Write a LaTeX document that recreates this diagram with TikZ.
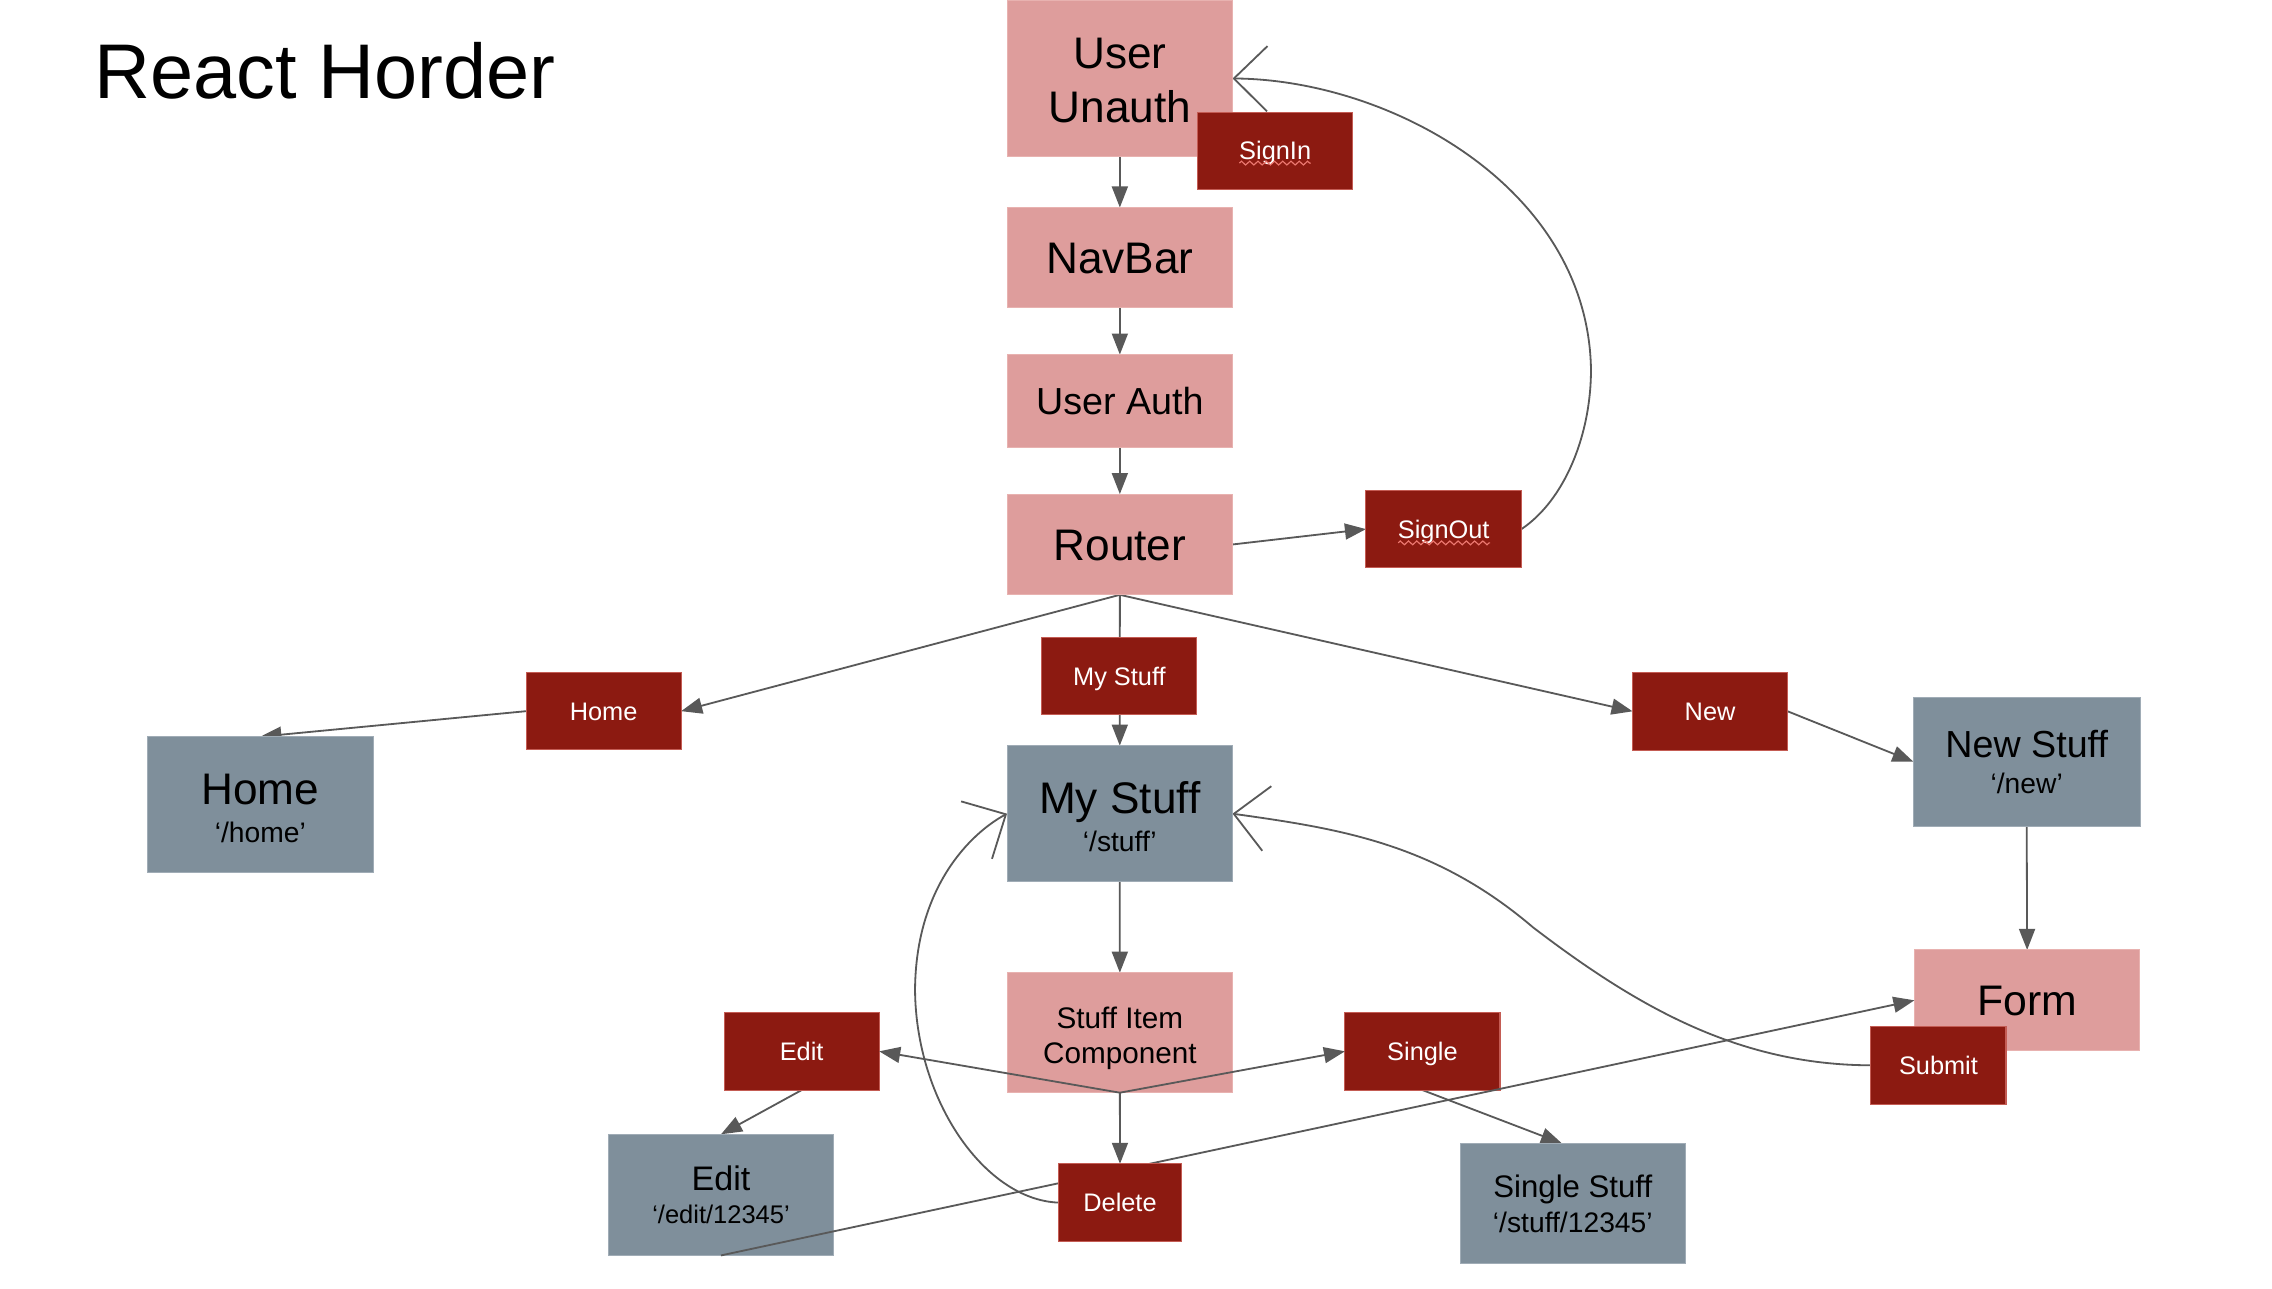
\documentclass[tikz,border=0pt]{standalone}
\usepackage{fontspec}
\setmainfont{Liberation Sans}
\usetikzlibrary{arrows.meta,calc,decorations.pathmorphing}
\definecolor{pinkF}{RGB}{222,157,156}
\definecolor{pinkB}{RGB}{232,178,176}
\definecolor{grayF}{RGB}{127,143,155}
\definecolor{grayB}{RGB}{160,172,182}
\definecolor{redF}{RGB}{140,26,17}
\definecolor{redB}{RGB}{196,92,84}
\definecolor{lineC}{RGB}{89,89,89}
\definecolor{squigC}{RGB}{236,120,112}
\newcommand\fs[2]{\fontsize{#1}{#2}\selectfont}
\pgfdeclarelayer{bg}
\pgfsetlayers{bg,main}
\begin{document}
\begin{tikzpicture}[x=1pt,y=-1pt,
  box/.style={inner sep=0pt,outer sep=0pt,line width=0.7pt,align=center,minimum width=155.6pt},
  pinkbox/.style={box,fill=pinkF,draw=pinkB},
  graybox/.style={box,fill=grayF,draw=grayB},
  redlab/.style={box,fill=redF,draw=redB,text=white,minimum width=107pt,minimum height=53.5pt,
    font=\fs{17.5}{21},text height=12.5pt,text depth=0pt},
  big/.style={font=\fs{30.5}{37},text height=21.8pt,text depth=0pt},
  conn/.style={draw=lineC,line width=1.25pt},
  arr/.style={conn,-{Triangle[length=14.5pt,width=11pt]}},
  openarr/.style={conn,-{Straight Barb[length=23pt,width=45pt]}},
  squig/.style={draw=squigC,line width=0.8pt,decorate,
    decoration={zigzag,segment length=5.7pt,amplitude=1.3pt}}
]
\useasboundingbox (0,0) rectangle (1568,889);
\begin{pgfonlayer}{bg}
\fill[white] (0,0) rectangle (1568,889);
\end{pgfonlayer}

% title
\node[anchor=base west,font=\fs{53.5}{60},inner sep=0pt] (title) at (65.2,67.9) {React Horder};

% top column
\node[pinkbox,minimum height=107.3pt,font=\fs{30.5}{37.7}] (uu) at (772.85,54.15) {\rule{0pt}{23.6pt}User\\Unauth};
\node[redlab] (signin) at (880.05,104.05) {SignIn};
\node[pinkbox,big,minimum height=69pt] (navbar) at (772.85,177.7) {NavBar};
\node[pinkbox,minimum height=64.4pt,font=\fs{26}{30},text height=18.6pt,text depth=0pt] (userauth) at (772.85,276.9) {User Auth};
\node[pinkbox,big,minimum height=69.5pt] (router) at (772.85,375.75) {Router};
\node[redlab,minimum width=107.3pt] (signout) at (996.35,365.15) {SignOut};

% route labels
\node[redlab] (homelab) at (416.6,490.8) {Home};
\node[redlab] (mystufflab) at (772.55,466.6) {My Stuff};
\node[redlab] (newlab) at (1180.2,490.9) {New};

% pages
\node[graybox,minimum height=93.9pt,font=\fs{30.5}{26.4}] (homebox) at (179.7,555.35) {\rule{0pt}{26pt}Home\\{\fs{19.5}{26.4}‘/home’}};
\node[graybox,minimum height=93.9pt,font=\fs{30.5}{26.4}] (mystuffbox) at (772.8,561.55) {\rule{0pt}{26.2pt}My Stuff\\{\fs{19.5}{26.4}‘/stuff’}};
\node[graybox,minimum height=88.8pt,minimum width=156.4pt,font=\fs{26}{24.8}] (newstuff) at (1398.7,525.7) {New Stuff\\{\fs{19.5}{24.8}‘/new’}};
\node[pinkbox,minimum height=69.5pt,font=\fs{29.5}{35},text height=21.1pt,text depth=0pt] (form) at (1399,690.35) {Form};
\node[redlab,minimum width=93.2pt] (submit) at (1337.8,735.2) {Submit};

% stuff item area
\node[pinkbox,minimum height=82.8pt,font=\fs{20.5}{24.2}] (stuffitem) at (772.85,712.7) {\rule{0pt}{22.5pt}Stuff Item\\Component};
\node[redlab] (editlab) at (553.25,725.55) {Edit};
\node[redlab] (singlelab) at (981.7,725.55) {Single};
\node[graybox,minimum height=83.6pt,font=\fs{23.5}{22.3}] (editbox) at (497.6,824.6) {Edit\\{\fs{17.6}{22.3}‘/edit/12345’}};
\node[graybox,minimum height=83.2pt,font=\fs{21.5}{24.1}] (singlestuff) at (1085.45,830.7) {Single Stuff\\{\fs{19.5}{24.1}‘/stuff/12345’}};
% drawn over the Edit page, under the Delete label
\draw[arr] (editbox.south) -- (form.west);
\node[redlab,minimum width=85.1pt] (delete) at (772.95,829.95) {Delete};

% connectors behind the boxes
\begin{pgfonlayer}{bg}
\draw[arr] (uu.south) -- (navbar.north);
\draw[arr] (navbar.south) -- (userauth.north);
\draw[arr] (userauth.south) -- (router.north);
\draw[arr] (router.east) -- (signout.west);
\draw[arr] (router.south) -- (homelab.east);
\draw[arr] (router.south) -- (mystuffbox.north);
\draw[arr] (router.south) -- (newlab.west);
\draw[arr] (homelab.west) -- (homebox.north);
\draw[arr] (newlab.east) -- (newstuff.west);
\draw[arr] (newstuff.south) -- (form.north);
\draw[arr] (mystuffbox.south) -- (stuffitem.north);
\draw[arr] (stuffitem.south) -- (delete.north);
\draw[arr] (editlab.south) -- (editbox.north);
\draw[arr] (singlelab.south) -- ($(singlestuff.north)+(-7.5,0)$);
\draw[openarr] (signout.east) .. controls (1080,345) and (1098,300) .. (1098,255)
   .. controls (1096,130) and (960,55) .. (uu.east);
\draw[openarr] (delete.west) .. controls (680,828) and (632,760) .. (631.5,683)
   .. controls (632,612) and (670,575) .. (mystuffbox.west);
\draw[openarr] (submit.west) .. controls (1200,735) and (1130,695) .. (1058,640)
   .. controls (990,582) and (925,572) .. (mystuffbox.east);
\end{pgfonlayer}

% connectors drawn over the Stuff Item box
\draw[arr] (stuffitem.south) -- (editlab.east);
\draw[arr] (stuffitem.south) -- (singlelab.west);

% spell-check underlines
\draw[squig] ($(signin.center)+(-24.7,8.5)$) -- ($(signin.center)+(24.6,8.5)$);
\draw[squig] ($(signout.center)+(-31.4,9.5)$) -- ($(signout.center)+(32,9.5)$);
\end{tikzpicture}
\end{document}
